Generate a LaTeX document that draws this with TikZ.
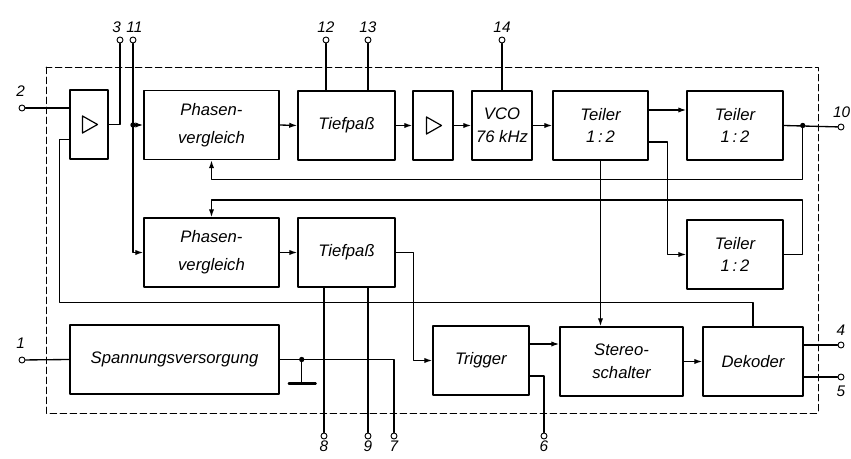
\documentclass[tikz,border=0pt]{standalone}
\usepackage{fontspec}
\setmainfont{Liberation Sans}
\usetikzlibrary{calc,arrows.meta}
\newcommand\blockfont{\itshape\fontsize{12.5}{17}\selectfont}
\newcommand\pinfont{\itshape\fontsize{11.5}{13}\selectfont}
\tikzset{
  block/.style={draw, line width=1.1pt, inner sep=2pt, align=center, font=\blockfont},
  term/.style={circle, draw, line width=0.7pt, fill=white, inner sep=0pt, minimum size=4.5pt},
  wire/.style={line width=1pt},
  sig/.style={wire, -{Latex[length=6pt,width=4pt]}},
  frame/.style={dash pattern=on 5pt off 2.5pt, line width=0.6pt},
  every label/.style={font=\pinfont, inner sep=1pt},
  label distance=2pt
}

\begin{document}
\begin{tikzpicture}[x=0.75pt, y=-0.75pt, line cap=round, line join=round]

  \useasboundingbox (0,0) rectangle (851,459);

  % Chip outline
  \draw[frame] (46,67) rectangle (818,413);

  % Upper row
  \node[block, minimum width=28.5pt, minimum height=51.75pt] (amp1) at (89,124.5) {};
  \node[block, minimum width=101.25pt, minimum height=51.75pt] (pv1) at (211.5,125) {Phasen-\\[4pt]vergleich};
  \node[block, minimum width=72.75pt, minimum height=51.75pt] (tp1) at (346.5,125.5) {Tiefpaß};
  \node[block, minimum width=30pt, minimum height=51.75pt] (amp2) at (433,125.5) {};
  \node[block, minimum width=45pt, minimum height=51.75pt] (vco) at (502,125.5) {VCO\\76 kHz};
  \node[block, minimum width=71.25pt, minimum height=51.75pt] (tl1) at (600.5,125.5) {Teiler\\1\,:\,2};
  \node[block, minimum width=72pt, minimum height=51.75pt] (tl2) at (735,125.5) {Teiler\\1\,:\,2};

  % Middle row
  \node[block, minimum width=101.25pt, minimum height=51.75pt] (pv2) at (211.5,252.5) {Phasen-\\[4pt]vergleich};
  \node[block, minimum width=72.75pt, minimum height=51.75pt] (tp2) at (346.5,252.5) {Tiefpaß};
  \node[block, minimum width=72pt, minimum height=51.75pt] (tl3) at (735,254.5) {Teiler\\1\,:\,2};

  % Lower row
  \node[block, minimum width=156.75pt, minimum height=51.75pt] (sv) at (174.5,359.5) {Spannungsversorgung};
  \node[block, minimum width=72pt, minimum height=51.75pt] (trig) at (481,360.5) {Trigger};
  \node[block, minimum width=92.25pt, minimum height=51.75pt] (ss) at (621.5,361.5) {Stereo-\\schalter};
  \node[block, minimum width=75pt, minimum height=51.75pt] (dek) at (753,361.5) {Dekoder};

  % Amplifier symbols
  \draw[line width=0.9pt] (amp1.center) ++(-6.5,-8.5) -- ++(15,8.5) -- ++(-15,8.5) -- cycle;
  \draw[line width=0.9pt] (amp2.center) ++(-6.5,-8.5) -- ++(15,8.5) -- ++(-15,8.5) -- cycle;

  % Terminals
  \node[term, label={[xshift=-1pt, label distance=5pt]above:2}] (p2) at (22,108) {};
  \node[term, label={[xshift=-2.5pt]above:3}] (p3) at (120,40) {};
  \node[term, label={[xshift=1pt]above:11}] (p11) at (133,40) {};
  \node[term, label={above:12}] (p12) at (326,40) {};
  \node[term, label={above:13}] (p13) at (368,40) {};
  \node[term, label={above:14}] (p14) at (502,40) {};
  \node[term, label={[xshift=0.5pt, label distance=3pt]above:10}] (p10) at (841,127) {};
  \node[term, label={[label distance=3pt]above:4}] (p4) at (841,345) {};
  \node[term, label={[label distance=3pt]below:5}] (p5) at (841,377) {};
  \node[term, label={[xshift=-1pt, label distance=5pt]above:1}] (p1) at (22,360) {};
  \node[term, label={[label distance=0pt]below:8}] (p8) at (324,436) {};
  \node[term, label={[label distance=0pt]below:9}] (p9) at (368,436) {};
  \node[term, label={[label distance=0pt]below:7}] (p7) at (394,436) {};
  \node[term, label={[label distance=0pt]below:6}] (p6) at (544,436) {};

  % Input amplifier
  \draw[wire] (p2) -- (p2 -| amp1.west);
  \draw[wire] (amp1.east) -| (p3);
  \draw[wire] (dek.north) -- ++(0,-24) -| ($(amp1.west)+(-10,15)$) -- ($(amp1.west)+(0,15)$);

  % Pin 11 to both phase comparators
  \draw[sig] (p11) |- (pv2.west);
  \draw[sig] (p11 |- pv1.west) -- (pv1.west);
  \fill (p11 |- pv1.west) circle (2pt);

  % PLL loop
  \draw[sig] (pv1.east) -- (tp1.west);
  \draw[sig] (tp1.east) -- (amp2.west);
  \draw[sig] (amp2.east) -- (vco.west);
  \draw[sig] (vco.east) -- (tl1.west);
  \draw[wire] (p12) -- (p12 |- tp1.north);
  \draw[wire] (p13) -- (p13 |- tp1.north);
  \draw[wire] (p14) -- (vco.north);
  \draw[sig] ($(tl1.east)+(0,-15.5)$) -- ($(tl2.west)+(0,-15.5)$);
  \coordinate (j10) at ($(tl2.east)+(19,0)$);
  \draw[wire] (tl2.east) -- (p10);
  \fill (j10) circle (2pt);
  \draw[sig] (j10) -- ++(0,54) -| (pv1.south);

  % Pilot divider and second comparator
  \draw[sig] ($(tl1.east)+(0,16.5)$) -- ++(19,0) |- (tl3.west);
  \draw[sig] (tl3.east) -- ++(19,0) -- ++(0,-54.5) -| (pv2.north);
  \draw[sig] (pv2.east) -- (tp2.west);
  \draw[wire] (p8) -- (p8 |- tp2.south);
  \draw[wire] (p9) -- (p9 |- tp2.south);
  \draw[sig] (tp2.east) -- ++(18,0) |- (trig.west);

  % Stereo switch and decoder
  \draw[sig] (tl1.south) -- (tl1.south |- ss.north);
  \draw[sig] ($(trig.east)+(0,-16.5)$) -- ($(ss.west)+(0,-17.5)$);
  \draw[wire] ($(trig.east)+(0,15.5)$) -| (p6);
  \draw[sig] (ss.east) -- (dek.west);
  \draw[wire] (p4 -| dek.east) -- (p4);
  \draw[wire] (p5 -| dek.east) -- (p5);

  % Supply
  \draw[wire] (p1) -- (sv.west);
  \draw[wire] (sv.east) -| (p7);
  \coordinate (gnd) at ($(sv.east)+(22,0)$);
  \fill (gnd) circle (2pt);
  \draw[wire] (gnd) -- ++(0,24) coordinate (gb);
  \draw[line width=1.6pt] ($(gb)+(-13,0)$) -- ($(gb)+(14,0)$);

\end{tikzpicture}
\end{document}
